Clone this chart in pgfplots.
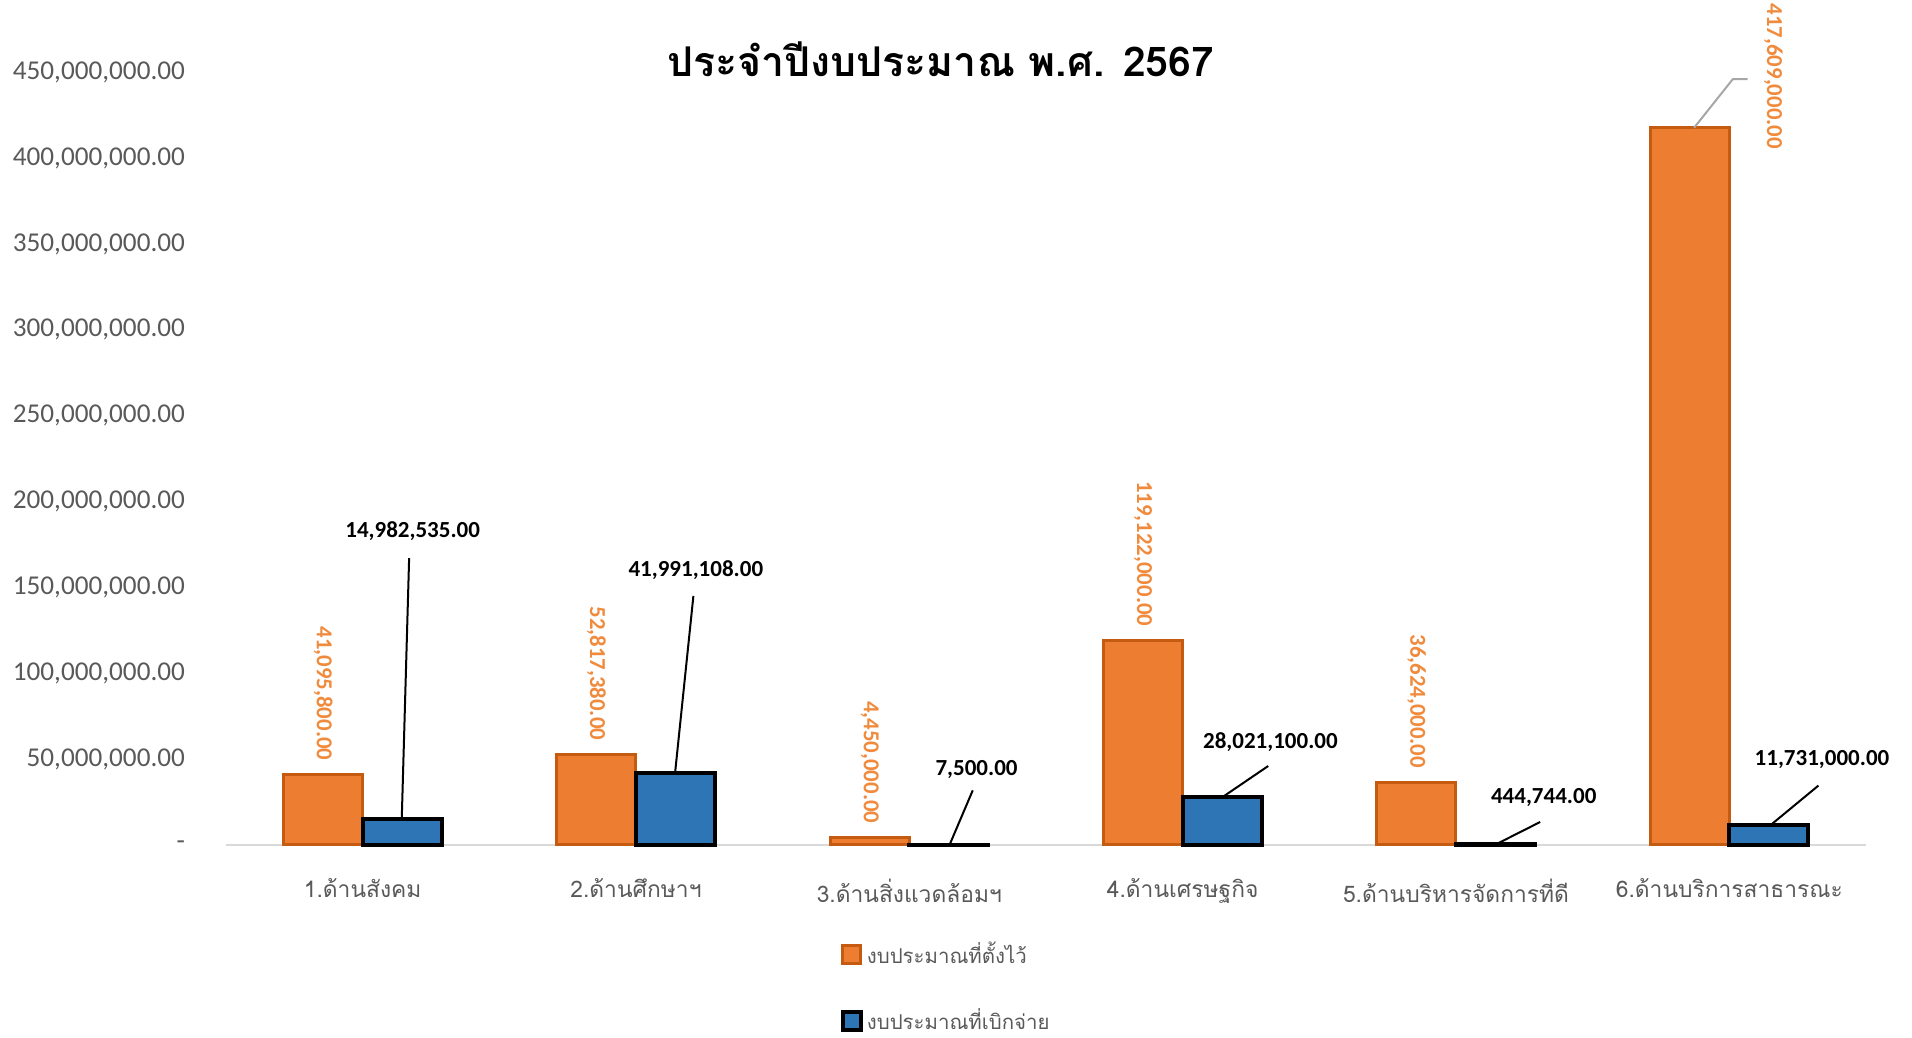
\documentclass[border=0pt]{standalone}
\usepackage{fontspec}
\setmainfont{Carlito}
\newfontfamily\thai[Script=Thai]{Loma}
\usepackage{pgfplots}
\pgfplotsset{compat=1.18}
\definecolor{obar}{HTML}{ED7D31}
\definecolor{oedge}{HTML}{C55A11}
\definecolor{bbar}{HTML}{2E75B6}
\definecolor{tgray}{HTML}{595959}
\definecolor{olab}{HTML}{F08A3C}
\begin{document}
\begin{tikzpicture}
\begin{axis}[
  at={(0,0)}, anchor=south west,
  scale only axis, width=820pt, height=386.4pt,
  xmin=-0.5, xmax=5.5, ymin=0, ymax=450000000,
  ybar=0pt, bar width=39.5pt,
  axis x line*=bottom, axis y line*=left,
  x axis line style={draw=black!15, line width=1pt, -},
  y axis line style={draw=none},
  xtick={0,1,2,3,4,5}, xtick style={draw=none},
  xticklabels={1.ด้านสังคม,2.ด้านศึกษาฯ,3.ด้านสิ่งแวดล้อมฯ,4.ด้านเศรษฐกิจ,5.ด้านบริหารจัดการที่ดี,6.ด้านบริการสาธารณะ},
  xticklabel style={font=\thai\fontsize{11.4pt}{13pt}\selectfont, text=tgray, yshift=-9pt},
  ytick={0,50000000,100000000,150000000,200000000,250000000,300000000,350000000,400000000,450000000},
  yticklabels={-,{50,000,000.00},{100,000,000.00},{150,000,000.00},{200,000,000.00},{250,000,000.00},{300,000,000.00},{350,000,000.00},{400,000,000.00},{450,000,000.00}},
  ytick style={draw=none},
  scaled y ticks=false,
  yticklabel style={font=\fontsize{13.6pt}{15pt}\selectfont, text=tgray, xshift=-17pt},
  clip=false,
  legend cell align=left,
  legend style={at={(axis description cs:0.371,-0.115)}, anchor=north west, draw=none, fill=none,
    font=\thai\fontsize{10.2pt}{12pt}\selectfont, text=tgray, row sep=17pt},
  legend image code/.code={\draw[#1] (0pt,-4.5pt) rectangle (9pt,4.5pt);},
]
\addplot[fill=obar, draw=oedge, line width=1.5pt,
  nodes near coords, point meta=explicit symbolic,
  nodes near coords style={yshift=3pt, rotate=-90, anchor=east, font=\bfseries\fontsize{11.4pt}{13pt}\selectfont, text=olab}]
  coordinates {(0,41095800)[41,095,800.00] (1,52817380)[52,817,380.00] (2,4450000)[4,450,000.00] (3,119122000)[119,122,000.00] (4,36624000)[36,624,000.00] (5,417609000)[]};
\addlegendentry{งบประมาณที่ตั้งไว้}
\addplot[fill=bbar, draw=black, line width=2pt]
  coordinates {(0,14982535) (1,41991108) (2,7500) (3,28021100) (4,444744) (5,11731000)};
\addlegendentry{งบประมาณที่เบิกจ่าย}
% label for 417,609,000
\node[rotate=-90, anchor=east, font=\bfseries\fontsize{11.4pt}{13pt}\selectfont, text=olab] at (axis cs:5.161,401300000) {417,609,000.00};
\draw[black!35, line width=1pt] (axis cs:4.871,417609000) -- (axis cs:5.013,446000000) -- (axis cs:5.067,446000000);
% blue labels with leader lines
\tikzset{bl/.style={font=\bfseries\fontsize{11.5pt}{13pt}\selectfont, text=black}}
\node[bl] at (axis cs:0.183,182500000) {14,982,535.00};
\draw[black, line width=1pt] (axis cs:0.17,167000000) -- (axis cs:0.143,14982535);
\node[bl] at (axis cs:1.219,159800000) {41,991,108.00};
\draw[black, line width=1pt] (axis cs:1.21,145000000) -- (axis cs:1.143,41991108);
\node[bl] at (axis cs:2.246,43900000) {7,500.00};
\draw[black, line width=1pt] (axis cs:2.232,31800000) -- (axis cs:2.147,7500);
\node[bl] at (axis cs:3.321,60100000) {28,021,100.00};
\draw[black, line width=1pt] (axis cs:3.313,46000000) -- (axis cs:3.147,28021100);
\node[bl] at (axis cs:4.321,27600000) {444,744.00};
\draw[black, line width=1pt] (axis cs:4.308,13400000) -- (axis cs:4.147,444744);
\node[bl] at (axis cs:5.339,49600000) {11,731,000.00};
\draw[black, line width=1pt] (axis cs:5.326,34600000) -- (axis cs:5.152,11731000);
\end{axis}
\node[font=\thai\bfseries\fontsize{20.5pt}{24pt}\selectfont] at (357.5pt,393pt) {ประจำปีงบประมาณ พ.ศ. 2567};
\pgfresetboundingbox
\path[use as bounding box] (-113pt,-96.5pt) rectangle (843pt,422.5pt);
\end{tikzpicture}
\end{document}
